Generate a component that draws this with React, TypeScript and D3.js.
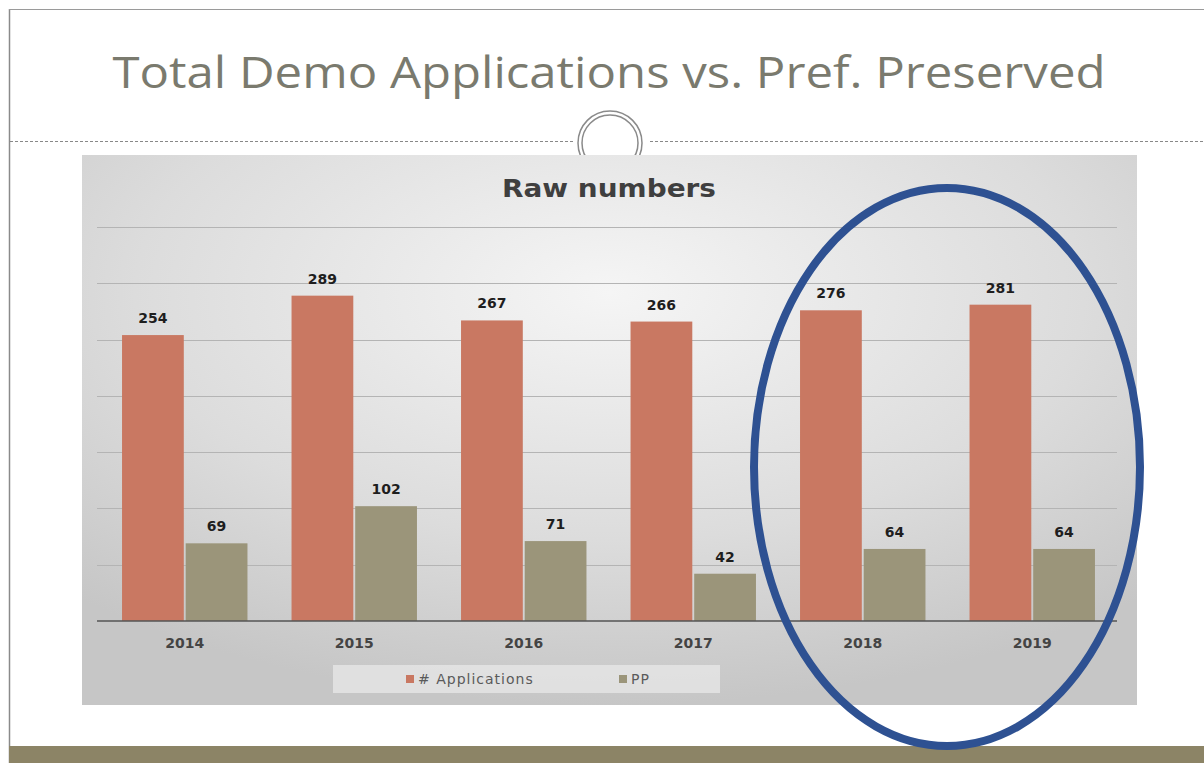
import React, { useRef, useEffect } from 'react';
import * as d3 from 'd3';

const years = ['2014', '2015', '2016', '2017', '2018', '2019'];
const applications = [254, 289, 267, 266, 276, 281];
const preserved = [69, 102, 71, 42, 64, 64];
const seriesNames = ['# Applications', 'PP'];
const seriesColors = ['#c97862', '#9b957a'];
const yTicks = [0, 50, 100, 150, 200, 250, 300, 350];

const W = 1204;
const H = 763;

const App: React.FC = () => {
  const svgRef = useRef<SVGSVGElement>(null);

  useEffect(() => {
    if (!svgRef.current) return;
    const svg = d3.select(svgRef.current);
    svg.selectAll('*').remove();

    const defs = svg.append('defs');
    const grad = defs.append('radialGradient')
      .attr('id', 'bg')
      .attr('cx', '50%').attr('cy', '25%').attr('r', '75%');
    grad.append('stop').attr('offset', '0%').attr('stop-color', '#f5f5f5');
    grad.append('stop').attr('offset', '60%').attr('stop-color', '#dcdcdc');
    grad.append('stop').attr('offset', '100%').attr('stop-color', '#c6c6c6');

    // Slide frame
    svg.append('rect').attr('width', W).attr('height', H).attr('fill', '#fff');
    svg.append('line').attr('x1', 9.5).attr('x2', 9.5).attr('y1', 9).attr('y2', H)
      .attr('stroke', '#8a8a8a').attr('stroke-width', 1.5);
    svg.append('line').attr('x1', 9).attr('x2', W).attr('y1', 9.5).attr('y2', 9.5)
      .attr('stroke', '#9a9a9a').attr('stroke-width', 1);

    svg.append('text')
      .attr('x', 609).attr('y', 88)
      .attr('text-anchor', 'middle')
      .attr('font-family', 'Open Sans')
      .attr('font-size', 44)
      .attr('fill', '#7a7a6e')
      .attr('textLength', 993)
      .attr('lengthAdjust', 'spacingAndGlyphs')
      .text('Total Demo Applications vs. Pref. Preserved');

    // Dashed divider with ring ornament
    svg.append('line').attr('x1', 10).attr('x2', 575).attr('y1', 141.5).attr('y2', 141.5)
      .attr('stroke', '#888').attr('stroke-dasharray', '3,2');
    svg.append('line').attr('x1', 650).attr('x2', W).attr('y1', 141.5).attr('y2', 141.5)
      .attr('stroke', '#888').attr('stroke-dasharray', '3,2');
    svg.append('circle').attr('cx', 610).attr('cy', 143).attr('r', 32)
      .attr('fill', '#fff').attr('stroke', '#8a8a8a').attr('stroke-width', 1.5);
    svg.append('circle').attr('cx', 610).attr('cy', 143).attr('r', 28)
      .attr('fill', 'none').attr('stroke', '#8a8a8a').attr('stroke-width', 1.5);

    // Chart area
    const cx0 = 82, cy0 = 155, cw = 1055, ch = 550;
    svg.append('rect').attr('x', cx0).attr('y', cy0).attr('width', cw).attr('height', ch)
      .attr('fill', 'url(#bg)');

    svg.append('text')
      .attr('x', 609).attr('y', 197)
      .attr('text-anchor', 'middle')
      .attr('font-family', 'DejaVu Sans')
      .attr('font-weight', 'bold')
      .attr('font-size', 25)
      .attr('fill', '#3f3f3f')
      .attr('textLength', 214)
      .attr('lengthAdjust', 'spacingAndGlyphs')
      .text('Raw numbers');

    const x = d3.scaleBand().domain(years).range([100, 1117])
      .paddingInner(0.26).paddingOuter(0.13);
    const xs = d3.scaleBand().domain(seriesNames).range([0, x.bandwidth()]).paddingInner(0.03);
    const y = d3.scaleLinear().domain([0, 350]).range([621, 227]);

    // Grid lines
    svg.append('g').selectAll('line').data(yTicks.slice(1)).enter().append('line')
      .attr('x1', 97).attr('x2', 1117)
      .attr('y1', d => Math.round(y(d)) + 0.5).attr('y2', d => Math.round(y(d)) + 0.5)
      .attr('stroke', '#b4b4b4').attr('stroke-width', 1);

    const rows = years.map((yr, i) => ({ yr, vals: [applications[i], preserved[i]] }));
    const groups = svg.append('g').selectAll('g').data(rows).enter().append('g')
      .attr('transform', d => `translate(${x(d.yr)},0)`);

    groups.selectAll('rect')
      .data(d => d.vals.map((v, k) => ({ v, k })))
      .enter().append('rect')
      .attr('x', d => xs(seriesNames[d.k]) || 0)
      .attr('y', d => y(d.v))
      .attr('width', xs.bandwidth())
      .attr('height', d => y(0) - y(d.v))
      .attr('fill', d => seriesColors[d.k]);

    groups.selectAll('text')
      .data(d => d.vals.map((v, k) => ({ v, k })))
      .enter().append('text')
      .attr('x', d => (xs(seriesNames[d.k]) || 0) + xs.bandwidth() / 2)
      .attr('y', d => y(d.v) - 12)
      .attr('text-anchor', 'middle')
      .attr('font-family', 'DejaVu Sans')
      .attr('font-weight', 'bold')
      .attr('font-size', 14)
      .attr('fill', '#1e1e1e')
      .text(d => d.v);

    // Axis
    const axis = svg.append('g')
      .attr('transform', `translate(0,${y(0)})`)
      .call(d3.axisBottom(x).tickSize(0).tickPadding(17));
    axis.select('.domain').attr('stroke', '#555').attr('stroke-width', 1.5)
      .attr('d', 'M97,0H1117');
    axis.selectAll('text')
      .attr('font-family', 'DejaVu Sans')
      .attr('font-weight', 'bold')
      .attr('font-size', 14)
      .attr('fill', '#444');

    // Legend
    svg.append('rect').attr('x', 333).attr('y', 665).attr('width', 387).attr('height', 28)
      .attr('fill', '#e6e6e6').attr('opacity', 0.8);
    const legendX = [406, 619];
    seriesNames.forEach((name, k) => {
      svg.append('rect').attr('x', legendX[k]).attr('y', 675).attr('width', 8).attr('height', 8)
        .attr('fill', seriesColors[k]);
      svg.append('text')
        .attr('x', legendX[k] + 12).attr('y', 684)
        .attr('font-family', 'DejaVu Sans')
        .attr('font-size', 14)
        .attr('letter-spacing', 1)
        .attr('fill', '#5a5a5a')
        .text(name);
    });

    // Bottom band
    svg.append('rect').attr('x', 9).attr('y', 746).attr('width', W - 9).attr('height', H - 746)
      .attr('fill', '#8c8466');

    // Highlight ellipse
    svg.append('ellipse')
      .attr('cx', 947).attr('cy', 467).attr('rx', 193).attr('ry', 279)
      .attr('fill', 'none').attr('stroke', '#2e5192').attr('stroke-width', 8);
  }, []);

  return <svg ref={svgRef} width={W} height={H} style={{ position: 'absolute', left: 0, top: 0 }} />;
};

export default App;
